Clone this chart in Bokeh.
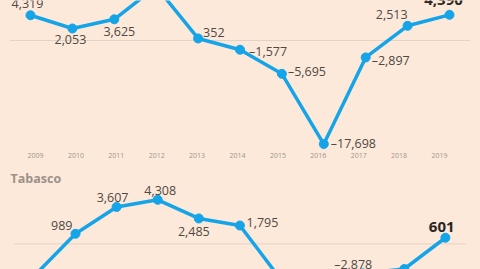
from bokeh.plotting import figure
from bokeh.models import Range1d, LinearAxis, FixedTicker, ColumnDataSource, Label
from bokeh.layouts import column
from bokeh.core.properties import value
from bokeh.embed import file_html
from bokeh.resources import INLINE

# ---------------- data ----------------
years = [2009, 2010, 2011, 2012, 2013, 2014, 2015, 2016, 2017, 2018, 2019]
national_values = [4319, 2053, 3625, 9200, 352, -1577, -5695, -17698, -2897, 2513, 4390]
tabasco_values = [-3100, 989, 3607, 4308, 2485, 1795, -3500, -5000, -2878, -2450, 601]
year_labels = [str(y) for y in years]
panel_title = "Tabasco"

# ---------------- styles ----------------
BG = "#FDE9D9"
LINE = "#15A4E8"
GRID = "#E3D3C6"
TXT = "#4F4845"
YEAR_TXT = "#A0968E"
TITLE_TXT = "#9B918A"
FONT = value("Open Sans")

# label placement (screen offsets)
top_align = ["center", "center", "center", "center", "left", "left", "left", "left", "left", "right", "center"]
top_dx = [-3, -2, 5, 0, 5, 9, 6, 7, 6, 0, -6]
top_dy = [-12, 11, 12.5, -12, -6, 2, -2.6, -1, 3.3, -11, -14.7]

bot_align = ["center", "right", "center", "center", "center", "left", "center", "center", "right", "center", "center"]
bot_dx = [0, -3, -4, 2.5, -5, 6.6, 0, 0, 9, 0, -3.7]
bot_dy = [12, -8.3, -9.3, -9.3, 13.5, -2.7, 12, 12, -9, 12, -11]


def fmt(v):
    return ("\u2013" if v < 0 else "") + f"{abs(v):,}"


def panel(p, vals, align, dx, dy):
    src = ColumnDataSource(dict(
        x=years, y=vals, lab=[fmt(v) for v in vals],
        align=align, dx=dx, dy=dy))
    p.segment(x0=[years[0] - 0.5], y0=[0], x1=[years[-1] + 0.5], y1=[0],
              line_color=GRID, line_width=1)
    p.line("x", "y", source=src, line_color=LINE, line_width=3.5,
           line_join="round", line_cap="round")
    p.scatter("x", "y", source=src, size=9, fill_color=LINE, line_color=LINE)
    n = len(vals)
    reg = ColumnDataSource({k: v[:n - 1] for k, v in src.data.items()})
    last = ColumnDataSource({k: v[n - 1:] for k, v in src.data.items()})
    p.text("x", "y", text="lab", source=reg, x_offset="dx", y_offset="dy",
           text_align="align", text_baseline="middle",
           text_font=FONT, text_font_size="12.5px", text_color=TXT)
    p.text("x", "y", text="lab", source=last, x_offset="dx", y_offset="dy",
           text_align="align", text_baseline="middle",
           text_font=FONT, text_font_size="15px", text_font_style="bold",
           text_color="#2B2623")


# ---------------- top panel ----------------
p1 = figure(width=480, height=167, output_backend="svg", toolbar_location=None,
            x_range=Range1d(2008.284, 2019.740), y_range=Range1d(-18803, 6838),
            x_axis_type=None, y_axis_type=None,
            min_border_left=0, min_border_right=0, min_border_top=0, min_border_bottom=17,
            background_fill_color=BG, border_fill_color=BG, outline_line_color=None)
p1.extra_x_ranges = {"yr": Range1d(2008.134, 2020.015)}
panel(p1, national_values, top_align, top_dx, top_dy)

ax = LinearAxis(x_range_name="yr", ticker=FixedTicker(ticks=years),
                major_label_overrides={y: s for y, s in zip(years, year_labels)})
ax.axis_line_color = None
ax.major_tick_line_color = None
ax.minor_tick_line_color = None
ax.major_tick_out = 0
ax.major_tick_in = 0
ax.major_label_standoff = 2
ax.major_label_text_font = "Open Sans"
ax.major_label_text_font_size = "7px"
ax.major_label_text_color = YEAR_TXT
p1.add_layout(ax, "below")

# ---------------- bottom panel ----------------
p2 = figure(width=480, height=102, output_backend="svg", toolbar_location=None,
            x_range=Range1d(2008.175, 2019.854), y_range=Range1d(-2500, 7461),
            x_axis_type=None, y_axis_type=None,
            min_border_left=0, min_border_right=0, min_border_top=0, min_border_bottom=0,
            background_fill_color=BG, border_fill_color=BG, outline_line_color=None)
panel(p2, tabasco_values, bot_align, bot_dx, bot_dy)
p2.add_layout(Label(x=10, y=91, x_units="screen", y_units="screen", text=panel_title,
                    text_font="Open Sans", text_font_size="12.5px", text_font_style="bold",
                    text_color=TITLE_TXT, text_baseline="middle"))

layout = column(p1, p2, spacing=0, styles={"background-color": BG})
html = file_html(layout, INLINE)
html = html.replace("<body>", '<body style="margin:0;background-color:%s">' % BG, 1)
open("out.html", "w").write(html)
